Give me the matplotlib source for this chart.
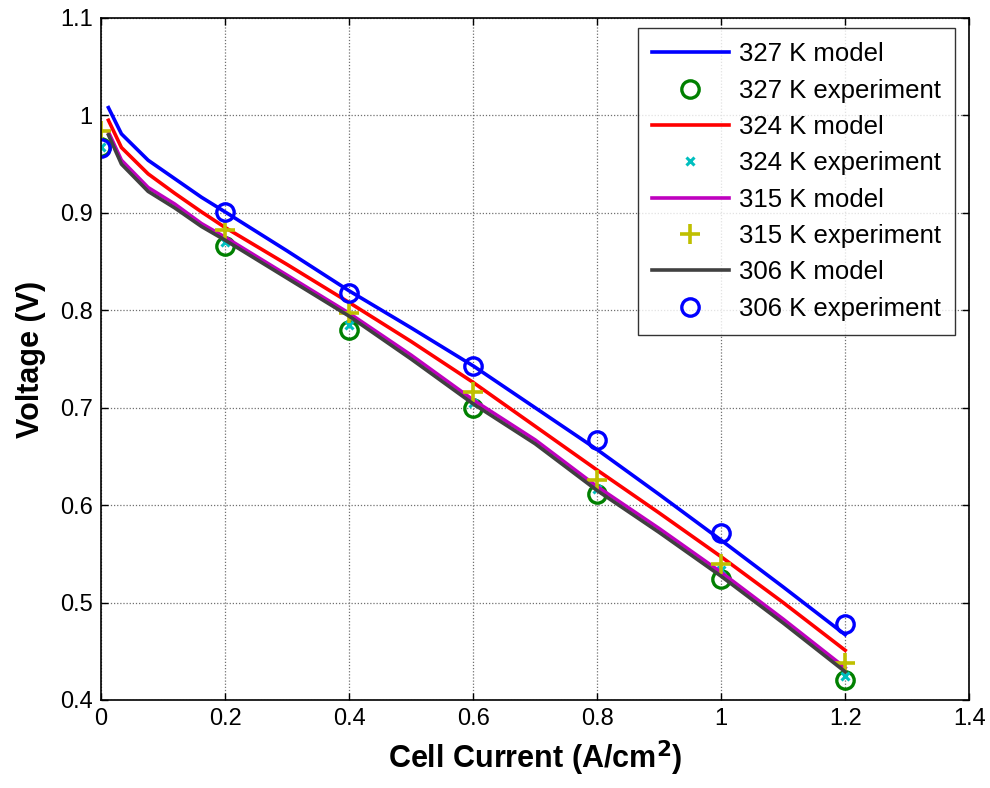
import matplotlib
matplotlib.use('Agg')
import matplotlib.pyplot as plt
import numpy as np

plt.rcParams['font.family'] = ['Liberation Sans', 'DejaVu Sans']

# model curves (current density, A/cm^2)
x_model = [0.012, 0.033, 0.076, 0.119, 0.162, 0.2, 0.3, 0.4, 0.5, 0.6, 0.7, 0.8, 0.9, 1.0, 1.1, 1.2]
v_327_model = [1.008, 0.981, 0.954, 0.935, 0.916, 0.901, 0.861, 0.820, 0.782, 0.743, 0.700, 0.657, 0.611, 0.564, 0.516, 0.467]
v_324_model = [0.995, 0.967, 0.940, 0.920, 0.901, 0.885, 0.847, 0.808, 0.768, 0.726, 0.681, 0.636, 0.592, 0.547, 0.500, 0.451]
v_315_model = [0.983, 0.954, 0.926, 0.909, 0.889, 0.875, 0.836, 0.797, 0.754, 0.708, 0.667, 0.619, 0.576, 0.531, 0.483, 0.433]
v_306_model = [0.980, 0.950, 0.922, 0.905, 0.886, 0.872, 0.833, 0.794, 0.750, 0.704, 0.663, 0.615, 0.572, 0.527, 0.479, 0.429]

# experimental points
x_exp = [0.0, 0.2, 0.4, 0.6, 0.8, 1.0, 1.2]
v_327_exp = [0.968, 0.866, 0.780, 0.700, 0.611, 0.524, 0.420]
v_324_exp = [0.968, 0.870, 0.785, 0.705, 0.617, 0.533, 0.425]
v_315_exp = [0.984, 0.882, 0.797, 0.716, 0.626, 0.540, 0.438]
v_306_exp = [0.967, 0.901, 0.818, 0.743, 0.667, 0.571, 0.478]

x_ticks = [0, 0.2, 0.4, 0.6, 0.8, 1.0, 1.2, 1.4]
x_tick_labels = ['0', '0.2', '0.4', '0.6', '0.8', '1', '1.2', '1.4']
y_ticks = [0.4, 0.5, 0.6, 0.7, 0.8, 0.9, 1.0, 1.1]
y_tick_labels = ['0.4', '0.5', '0.6', '0.7', '0.8', '0.9', '1', '1.1']

fig = plt.figure(figsize=(9.9, 7.88), dpi=100)
ax = fig.add_axes([0.102, 0.1117, 0.877, 0.8655])

lw = 2.6
ax.plot(x_model, v_327_model, color='#0000FF', lw=lw, label='327 K model')
ax.plot(x_exp, v_327_exp, 'o', ms=12.5, mfc='none', mec='#008000', mew=2.4, label='327 K experiment')
ax.plot(x_model, v_324_model, color='#FF0000', lw=lw, label='324 K model')
ax.plot(x_exp, v_324_exp, 'x', ms=6, mec='#00BFBF', mew=2.2, label='324 K experiment')
ax.plot(x_model, v_315_model, color='#BF00BF', lw=lw, label='315 K model')
ax.plot(x_exp, v_315_exp, '+', ms=14, mec='#BFBF00', mew=2.6, label='315 K experiment')
ax.plot(x_model, v_306_model, color='#404040', lw=lw, label='306 K model')
ax.plot(x_exp, v_306_exp, 'o', ms=12.5, mfc='none', mec='#0000FF', mew=2.4, label='306 K experiment')

ax.set_xlim(0, 1.4)
ax.set_ylim(0.4, 1.1)
ax.set_xticks(x_ticks)
ax.set_xticklabels(x_tick_labels)
ax.set_yticks(y_ticks)
ax.set_yticklabels(y_tick_labels)
ax.tick_params(direction='in', length=5, width=1, labelsize=17, top=True, right=True, pad=6)
ax.grid(True, linestyle=(0, (1, 1.5)), color='#707070', lw=0.9)
for sp in ax.spines.values():
    sp.set_linewidth(1.2)

ax.set_xlabel('Cell Current (A/cm$^\\mathbf{2}$)', fontsize=22, fontweight='bold', labelpad=6)
ax.set_ylabel('Voltage (V)', fontsize=22, fontweight='bold', labelpad=10)

leg = ax.legend(loc='upper right', bbox_to_anchor=(0.984, 0.985), fontsize=18.5, frameon=True,
                fancybox=False, edgecolor='black', handlelength=3.0, handletextpad=0.4,
                labelspacing=0.48, borderpad=0.55, borderaxespad=0)
leg.get_frame().set_linewidth(1.0)

fig.savefig('out.png', dpi=100)
